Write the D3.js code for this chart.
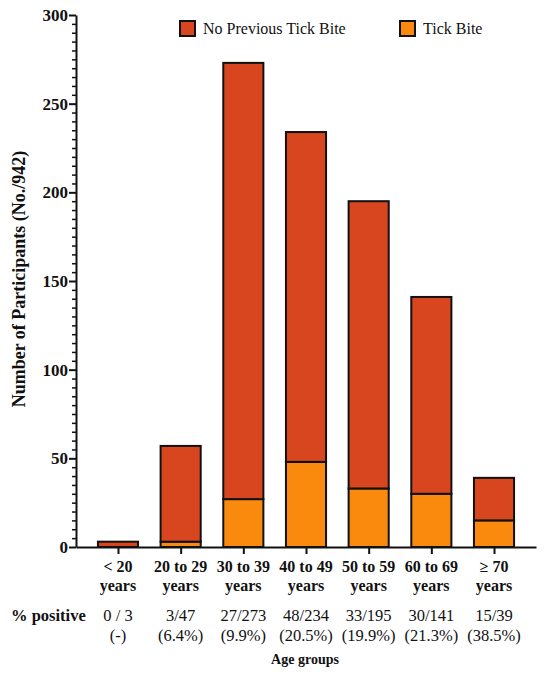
<!DOCTYPE html>
<html>
<head>
<meta charset="utf-8">
<script src="https://cdn.jsdelivr.net/npm/d3@7"></script>
<style>
  body { margin: 0; background: #fff; }
  text { font-family: "Liberation Serif", "DejaVu Serif", serif; fill: #111; }
</style>
</head>
<body>
<svg id="chart" width="550" height="684"></svg>
<script>
// data
const ageGroups = ["< 20", "20 to 29", "30 to 39", "40 to 49", "50 to 59", "60 to 69", "\u2265 70"];
const tickBite = [0, 3, 27, 48, 33, 30, 15];
const noPrevious = [3, 54, 246, 186, 162, 111, 24];
const positiveCounts = ["0 / 3", "3/47", "27/273", "48/234", "33/195", "30/141", "15/39"];
const positivePct = ["(-)", "(6.4%)", "(9.9%)", "(20.5%)", "(19.9%)", "(21.3%)", "(38.5%)"];
const yTicks = [0, 50, 100, 150, 200, 250, 300];
const seriesNames = ["Tick Bite", "No Previous Tick Bite"];
const seriesColors = ["#f98a0e", "#d84620"];

const svg = d3.select("#chart");

const x = d3.scalePoint().domain(ageGroups).range([76, 536]).padding(0.67);
const barW = x.step() * 0.64;
const y = d3.scaleLinear().domain([0, 300]).range([547, 15]);

const rows = ageGroups.map((g, i) => ({group: g, "Tick Bite": tickBite[i], "No Previous Tick Bite": noPrevious[i]}));
const stacked = d3.stack().keys(seriesNames)(rows);
const color = d3.scaleOrdinal().domain(seriesNames).range(seriesColors);

// bars
svg.append("g").selectAll("g")
  .data(stacked).enter().append("g")
  .attr("fill", d => color(d.key))
  .selectAll("rect")
  .data(d => d.filter(s => s[1] > s[0])).enter().append("rect")
  .attr("x", d => x(d.data.group) - barW / 2)
  .attr("width", barW)
  .attr("y", d => y(d[1]))
  .attr("height", d => y(d[0]) - y(d[1]))
  .attr("stroke", "#111")
  .attr("stroke-width", 2);

// y axis, minor ticks first
const minor = d3.range(0, 301, 5).filter(v => v % 50 !== 0);
svg.append("g").attr("transform", "translate(76,0)")
  .call(d3.axisLeft(y).tickValues(minor).tickSize(4).tickFormat(""))
  .call(g => g.select(".domain").remove())
  .selectAll("line").attr("stroke", "#111").attr("stroke-width", 1.5);

const yAxis = svg.append("g").attr("transform", "translate(76,0)")
  .call(d3.axisLeft(y).tickValues(yTicks).tickSize(7).tickPadding(1).tickSizeOuter(0));
yAxis.select(".domain").attr("stroke", "#111").attr("stroke-width", 2);
yAxis.selectAll(".tick line").attr("stroke", "#111").attr("stroke-width", 2);
yAxis.selectAll(".tick text")
  .style("font-family", "Liberation Serif").style("font-size", "17px")
  .style("font-weight", "bold").attr("fill", "#111");

// x axis
const xAxis = svg.append("g").attr("transform", "translate(0,547)")
  .call(d3.axisBottom(x).tickSize(7).tickSizeOuter(0).tickFormat(""));
xAxis.select(".domain").attr("stroke", "#111").attr("stroke-width", 2);
xAxis.selectAll(".tick line").attr("stroke", "#111").attr("stroke-width", 2);

const lab = svg.append("g").selectAll("g").data(ageGroups).enter().append("g")
  .attr("transform", d => `translate(${x(d)},0)`)
  .attr("text-anchor", "middle");
lab.append("text").attr("y", 572).style("font-size", "16px").style("font-weight", "bold").text(d => d);
lab.append("text").attr("y", 591).style("font-size", "16px").style("font-weight", "bold").text("years");
lab.append("text").attr("y", 621).style("font-size", "16.5px").text((d, i) => positiveCounts[i]);
lab.append("text").attr("y", 641).style("font-size", "16.5px").text((d, i) => positivePct[i]);

svg.append("text").attr("x", 11).attr("y", 621)
  .style("font-size", "16.5px").style("font-weight", "bold").text("% positive");

svg.append("text").attr("x", 305).attr("y", 664).attr("text-anchor", "middle")
  .style("font-size", "14px").style("font-weight", "bold").text("Age groups");

svg.append("text")
  .attr("transform", "translate(25,279) rotate(-90)")
  .attr("text-anchor", "middle")
  .style("font-size", "18px").style("font-weight", "bold")
  .text("Number of Participants (No./942)");

// legend
const legendItems = [
  {name: "No Previous Tick Bite", x: 180},
  {name: "Tick Bite", x: 400}
];
const leg = svg.append("g").selectAll("g").data(legendItems).enter().append("g")
  .attr("transform", d => `translate(${d.x},21)`);
leg.append("rect").attr("width", 15).attr("height", 15)
  .attr("fill", d => color(d.name)).attr("stroke", "#111").attr("stroke-width", 2);
leg.append("text").attr("x", 23).attr("y", 13).style("font-size", "16px").text(d => d.name);
</script>
</body>
</html>
